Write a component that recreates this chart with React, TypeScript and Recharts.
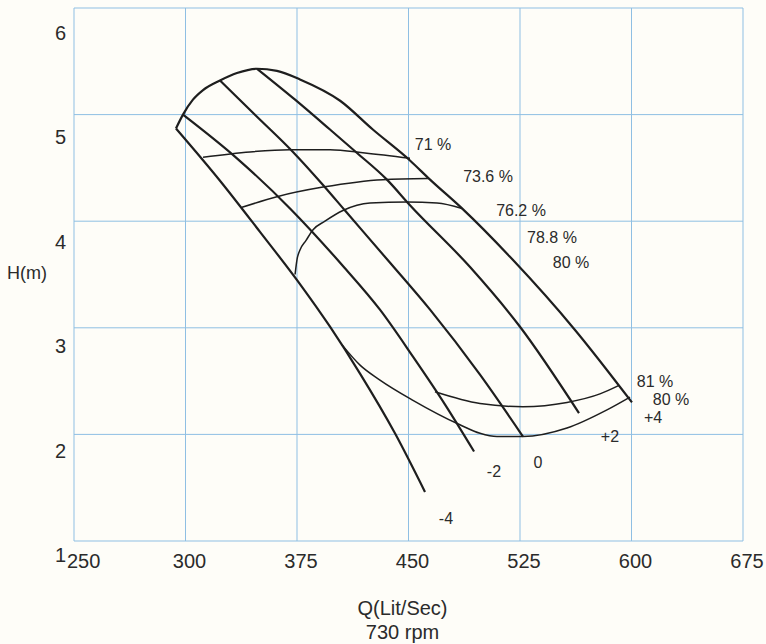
import React from 'react';
import { LineChart, Line, XAxis, YAxis, CartesianGrid, ReferenceDot } from 'recharts';

// Axis ticks
const xTicks = [225, 300, 375, 450, 525, 600, 675];
const xTickLabels = ['250', '300', '375', '450', '525', '600', '675'];
const yTicks = [1, 2, 3, 4, 5, 6];

// Blade-angle head curves (Q in Lit/Sec, H in m)
const bladePlus4 = [
  { q: 293.6, h: 4.87 }, { q: 298.3, h: 5.0 }, { q: 305.0, h: 5.14 }, { q: 311.8, h: 5.23 },
  { q: 323.2, h: 5.32 }, { q: 334.6, h: 5.39 }, { q: 348.0, h: 5.43 }, { q: 361.5, h: 5.41 },
  { q: 377.0, h: 5.33 }, { q: 404.0, h: 5.13 }, { q: 426.0, h: 4.86 }, { q: 451.0, h: 4.57 },
  { q: 464.5, h: 4.39 }, { q: 486.0, h: 4.12 }, { q: 520.0, h: 3.64 }, { q: 562.0, h: 2.98 },
  { q: 600.3, h: 2.3 },
];
const bladePlus2 = [
  { q: 348.1, h: 5.43 }, { q: 373.7, h: 5.14 }, { q: 397.2, h: 4.86 }, { q: 415.4, h: 4.64 },
  { q: 435.5, h: 4.39 }, { q: 451.0, h: 4.15 }, { q: 491.4, h: 3.57 }, { q: 525.0, h: 3.01 },
  { q: 564.7, h: 2.2 },
];
const bladeZero = [
  { q: 323.2, h: 5.32 }, { q: 347.4, h: 4.99 }, { q: 372.3, h: 4.65 }, { q: 392.5, h: 4.34 },
  { q: 407.3, h: 4.1 }, { q: 437.6, h: 3.61 }, { q: 464.5, h: 3.17 }, { q: 498.1, h: 2.56 },
  { q: 527.0, h: 1.98 },
];
const bladeMinus2 = [
  { q: 298.3, h: 5.0 }, { q: 334.6, h: 4.59 }, { q: 370.3, h: 4.12 }, { q: 405.9, h: 3.58 },
  { q: 430.8, h: 3.17 }, { q: 453.0, h: 2.73 }, { q: 474.6, h: 2.28 }, { q: 494.1, h: 1.84 },
];
const bladeMinus4 = [
  { q: 293.6, h: 4.87 }, { q: 323.2, h: 4.38 }, { q: 350.1, h: 3.9 }, { q: 377.0, h: 3.41 },
  { q: 397.2, h: 3.01 }, { q: 417.4, h: 2.57 }, { q: 440.9, h: 2.01 }, { q: 461.1, h: 1.46 },
];

// Iso-efficiency curves
const eff71 = [
  { q: 311.8, h: 4.6 }, { q: 343.4, h: 4.65 }, { q: 370.3, h: 4.67 }, { q: 397.2, h: 4.67 },
  { q: 420.7, h: 4.64 }, { q: 451.0, h: 4.59 },
];
const eff736 = [
  { q: 338.0, h: 4.13 }, { q: 361.5, h: 4.23 }, { q: 392.5, h: 4.32 }, { q: 432.8, h: 4.39 },
  { q: 463.1, h: 4.4 },
];
const eff762 = [
  { q: 373.7, h: 3.5 }, { q: 375.0, h: 3.64 }, { q: 377.0, h: 3.73 }, { q: 381.1, h: 3.82 },
  { q: 385.8, h: 3.92 }, { q: 393.8, h: 4.0 }, { q: 405.9, h: 4.1 }, { q: 424.1, h: 4.17 },
  { q: 449.0, h: 4.18 }, { q: 469.2, h: 4.17 }, { q: 486.0, h: 4.12 },
];
const eff81 = [
  { q: 467.8, h: 2.4 }, { q: 498.1, h: 2.29 }, { q: 527.0, h: 2.26 }, { q: 556.6, h: 2.3 },
  { q: 578.8, h: 2.38 }, { q: 591.6, h: 2.46 },
];
const eff80 = [
  { q: 405.3, h: 2.84 }, { q: 417.4, h: 2.65 }, { q: 430.8, h: 2.51 }, { q: 453.0, h: 2.32 },
  { q: 484.6, h: 2.09 }, { q: 498.1, h: 2.01 }, { q: 509.5, h: 1.98 }, { q: 527.0, h: 1.98 },
  { q: 556.6, h: 2.06 }, { q: 583.5, h: 2.23 }, { q: 599.0, h: 2.35 },
];

// Curve annotations (text with the point it labels)
const annotations = [
  { text: '71 %', q: 466.5, h: 4.72 },
  { text: '73.6 %', q: 503.5, h: 4.42 },
  { text: '76.2 %', q: 525.7, h: 4.1 },
  { text: '78.8 %', q: 546.5, h: 3.85 },
  { text: '80 %', q: 559.3, h: 3.61 },
  { text: '81 %', q: 615.8, h: 2.5 },
  { text: '80 %', q: 626.6, h: 2.33 },
  { text: '+4', q: 614.5, h: 2.16 },
  { text: '+2', q: 585.5, h: 1.98 },
  { text: '0', q: 537.1, h: 1.74 },
  { text: '-2', q: 507.5, h: 1.65 },
  { text: '-4', q: 475.2, h: 1.21 },
];

const FONT = '"Liberation Sans", Arial, sans-serif';
const TEXT = '#2b2b2b';
const INK = '#1e1e1e';

const XTick = (props: any) => {
  const { x, y, payload, index } = props;
  const first = index === 0;
  return (
    <text x={first ? x - 7 : x + 4} y={y + 20} dy="0.35em" textAnchor={first ? 'start' : 'middle'}
      fontFamily={FONT} fontSize={20} fill={TEXT}>
      {xTickLabels[index] ?? String(payload.value)}
    </text>
  );
};

const YTick = (props: any) => {
  const { x, y, payload } = props;
  const off = 14 + (payload.value - 1) * 2.2;
  return (
    <text x={x - 8} y={y + off} dy="0.35em" textAnchor="end" fontFamily={FONT} fontSize={20} fill={TEXT}>
      {payload.value}
    </text>
  );
};

const XTitle = (props: any) => {
  const vb = props.viewBox || { x: 74, y: 541, width: 669, height: 103 };
  const cx = vb.x + vb.width / 2 - 6;
  return (
    <g>
      <text x={cx} y={vb.y + 67} dy="0.35em" textAnchor="middle" fontFamily={FONT} fontSize={20} fill={TEXT}>Q(Lit/Sec)</text>
      <text x={cx} y={vb.y + 91} dy="0.35em" textAnchor="middle" fontFamily={FONT} fontSize={20} fill={TEXT}>730 rpm</text>
    </g>
  );
};

const YTitle = (props: any) => {
  const vb = props.viewBox || { x: 0, y: 8, width: 74, height: 533 };
  return (
    <text x={27} y={vb.y + vb.height / 2 - 2} dy="0.35em" textAnchor="middle" fontFamily={FONT} fontSize={18} fill={TEXT}>H(m)</text>
  );
};

const blades = [bladePlus4, bladePlus2, bladeZero, bladeMinus2, bladeMinus4];
const effs = [eff71, eff736, eff762, eff81, eff80];

export default function App() {
  return (
    <div style={{ position: 'absolute', left: 0, top: 0, width: 766, height: 644, background: '#fefdf8', overflow: 'hidden' }}>
      <LineChart width={766} height={644} margin={{ top: 8, right: 23, bottom: 0, left: 0 }}>
        <CartesianGrid stroke="#8fbfe3" strokeWidth={1} />
        <XAxis type="number" dataKey="q" domain={[225, 675]} ticks={xTicks} interval={0}
          axisLine={false} tickLine={false} tickSize={0} tickMargin={0} height={103}
          tick={<XTick />} label={{ content: XTitle }} allowDataOverflow />
        <YAxis type="number" dataKey="h" domain={[1, 6]} ticks={yTicks} interval={0}
          axisLine={false} tickLine={false} tickSize={0} tickMargin={0} width={74}
          tick={<YTick />} label={{ content: YTitle }} allowDataOverflow />
        {blades.map((d, i) => (
          <Line key={'b' + i} data={d} dataKey="h" type="monotone" stroke={INK} strokeWidth={2.2}
            dot={false} activeDot={false} isAnimationActive={false} />
        ))}
        {effs.map((d, i) => (
          <Line key={'e' + i} data={d} dataKey="h" type="monotone" stroke={INK} strokeWidth={1.5}
            dot={false} activeDot={false} isAnimationActive={false} />
        ))}
        {annotations.map((a, i) => (
          <ReferenceDot key={'a' + i} x={a.q} y={a.h} r={0} fill="none" stroke="none"
            label={{ value: a.text, position: 'center', fontFamily: FONT, fontSize: 16, fill: TEXT }} />
        ))}
      </LineChart>
    </div>
  );
}
